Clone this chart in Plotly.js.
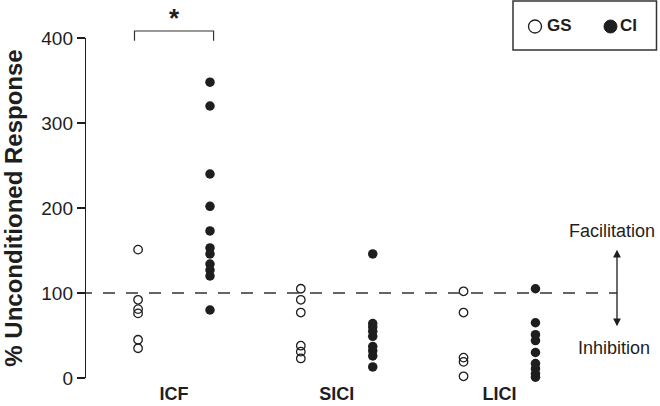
<!DOCTYPE html>
<html><head><meta charset="utf-8">
<script src="https://cdn.plot.ly/plotly-3.0.1.min.js"></script>
<style>html,body{margin:0;padding:0;background:#fff}</style>
</head><body><div id="chart" style="width:660px;height:406px"></div>
<script>
// ---- data ----
const categories = ['ICF', 'SICI', 'LICI'];
const gsICF  = [151, 92, 81, 76, 45, 35];
const ciICF  = [348, 320, 240, 202, 173, 153, 146, 134, 127, 120, 80];
const gsSICI = [105, 92, 77, 38, 31, 23];
const ciSICI = [146, 64, 60, 55, 49, 37, 32, 26, 13];
const gsLICI = [102, 77, 24, 19, 2];
const ciLICI = [105, 65, 51, 44, 30, 17, 11, 5, 1];
const yTicks = [0, 100, 200, 300, 400];
const baseline = 100;

const gsGroups = [gsICF, gsSICI, gsLICI];
const ciGroups = [ciICF, ciSICI, ciLICI];
const offset = 0.221;

function build(groups, sign) {
  const xs = [], ys = [];
  groups.forEach((g, i) => g.forEach(v => { xs.push(i + 1 + sign * offset); ys.push(v); }));
  return {xs, ys};
}
const gs = build(gsGroups, -1);
const ci = build(ciGroups, +1);

const ink = '#1e1e1e';
const sans = '"Liberation Sans", Arial, Helvetica, sans-serif';

const traces = [
  {x: gs.xs, y: gs.ys, name: 'GS', type: 'scatter', mode: 'markers', showlegend: false,
   cliponaxis: false,
   marker: {symbol: 'circle-open', size: 8.5, color: ink, line: {width: 1.3, color: ink}}},
  {x: ci.xs, y: ci.ys, name: 'CI', type: 'scatter', mode: 'markers', showlegend: false,
   cliponaxis: false,
   marker: {symbol: 'circle', size: 9.5, color: ink}}
];

const xMin = 0.459, xMax = 3.722;
const layout = {
  width: 660, height: 406,
  margin: {l: 86, r: 43, t: 38, b: 28, autoexpand: false},
  paper_bgcolor: '#fff', plot_bgcolor: '#fff',
  showlegend: false,
  xaxis: {range: [xMin, xMax], tickvals: [1, 2, 3], ticktext: categories.map(c => '<b>' + c + '</b>'),
          showline: false, ticks: '', showgrid: false, zeroline: false, ticklabelstandoff: 3,
          tickfont: {family: sans, size: 18, color: ink}},
  yaxis: {range: [0, 400], tickvals: yTicks, showline: true, linecolor: ink, linewidth: 1.2,
          ticks: 'outside', ticklen: 8, tickwidth: 1.2, tickcolor: ink, showgrid: false, zeroline: false,
          tickfont: {family: sans, size: 19, color: ink},
          title: {text: '<b>% Unconditioned Response</b>', font: {family: sans, size: 24, color: ink}, standoff: 18}},
  shapes: [
    // dashed reference line at 100%
    {type: 'line', xref: 'x', yref: 'y', x0: xMin - 6 / 162.75, x1: xMax, y0: baseline, y1: baseline,
     line: {color: '#333', width: 1.4, dash: '12px,11px'}},
    // significance bracket
    {type: 'path', xref: 'x', yref: 'paper', path: 'M0.757,0.992 L0.757,1.0206 L1.243,1.0206 L1.243,0.992',
     line: {color: '#333', width: 1.2}},
    // legend box
    {type: 'rect', xref: 'paper', yref: 'paper', x0: (513 - 86) / 531, x1: (656.5 - 86) / 531,
     y0: (378 - 50) / 340, y1: (378 - 1) / 340, line: {color: '#333', width: 1.5}},
    // legend symbols
    {type: 'circle', xref: 'paper', yref: 'paper', xsizemode: 'pixel', ysizemode: 'pixel',
     xanchor: (535 - 86) / 531, yanchor: (378 - 26.5) / 340, x0: -6.5, x1: 6.5, y0: -6.5, y1: 6.5,
     line: {color: ink, width: 1.3}, fillcolor: 'rgba(0,0,0,0)'},
    {type: 'circle', xref: 'paper', yref: 'paper', xsizemode: 'pixel', ysizemode: 'pixel',
     xanchor: (610.5 - 86) / 531, yanchor: (378 - 26.5) / 340, x0: -6.5, x1: 6.5, y0: -6.5, y1: 6.5,
     line: {color: ink, width: 1}, fillcolor: ink}
  ],
  annotations: [
    {text: '<b>*</b>', xref: 'x', yref: 'paper', x: 1, y: 1.01, xanchor: 'center', yanchor: 'bottom',
     showarrow: false, font: {family: sans, size: 26, color: ink}},
    {text: '<b>GS</b>', xref: 'paper', yref: 'paper', x: (545 - 86) / 531, y: (378 - 26) / 340,
     xanchor: 'left', yanchor: 'middle', showarrow: false, font: {family: sans, size: 17, color: ink}},
    {text: '<b>CI</b>', xref: 'paper', yref: 'paper', x: (618 - 86) / 531, y: (378 - 26) / 340,
     xanchor: 'left', yanchor: 'middle', showarrow: false, font: {family: sans, size: 17, color: ink}},
    {text: 'Facilitation', xref: 'paper', yref: 'y', x: (612 - 86) / 531, y: 173,
     xanchor: 'center', yanchor: 'middle', showarrow: false, font: {family: sans, size: 18, color: ink}},
    {text: 'Inhibition', xref: 'paper', yref: 'y', x: (614 - 86) / 531, y: 35,
     xanchor: 'center', yanchor: 'middle', showarrow: false, font: {family: sans, size: 18, color: ink}},
    {text: '', xref: 'paper', yref: 'y', x: 1, y: 151, axref: 'pixel', ax: 0, ayref: 'y', ay: 59,
     showarrow: true, arrowside: 'end+start', arrowhead: 2, arrowsize: 1.2, arrowwidth: 1.3, arrowcolor: ink}
  ]
};

Plotly.newPlot('chart', traces, layout, {displayModeBar: false, staticPlot: true});
</script></body></html>
